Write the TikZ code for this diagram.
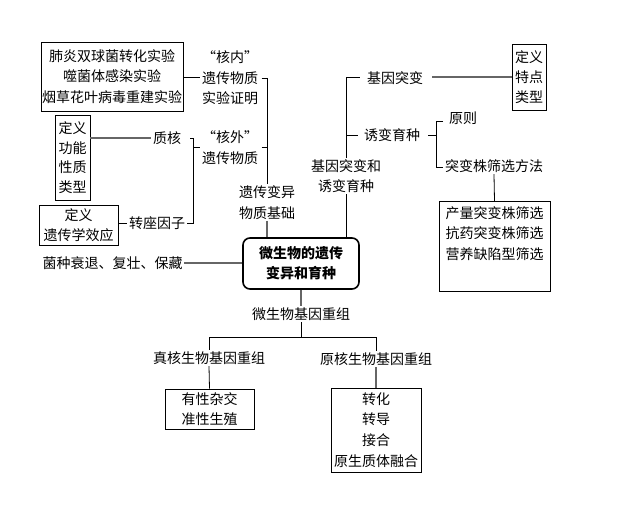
\documentclass[tikz,border=0pt]{standalone}
\usepackage{fontspec}
\setmainfont{Noto Sans CJK SC}
\begin{document}
\begin{tikzpicture}[x=1pt,y=-1pt,
  every node/.style={font=\fontsize{14}{20.5}\selectfont, inner sep=1.5pt, align=center},
  bx/.style={draw, line width=0.8pt, inner sep=0pt},
  ln/.style={line width=0.8pt, black},
  gl/.style={line width=1.2pt, gray!80!black}]
\useasboundingbox (0,0) rectangle (619,523);
% boxes
\node[bx, minimum width=142pt, minimum height=69pt] (b1) at (112,76.5) {肺炎双球菌转化实验\\噬菌体感染实验\\烟草花叶病毒重建实验};
\node[bx, minimum width=35pt, minimum height=85pt, font=\fontsize{14}{19.5}\selectfont] (b2) at (72.5,157.5) {定义\\功能\\性质\\类型};
\node[bx, minimum width=79pt, minimum height=40pt] (b3) at (78.5,225) {定义\\遗传学效应};
\node[bx, minimum width=34pt, minimum height=66pt, font=\fontsize{14}{20}\selectfont] (b4) at (529,77) {定义\\特点\\类型};
\node[bx, minimum width=111pt, minimum height=90pt, anchor=north] (b5) at (494.5,201) {\parbox[c][88pt][t]{108pt}{\centering\vspace*{4pt}产量突变株筛选\\抗药突变株筛选\\营养缺陷型筛选}};
\node[bx, minimum width=89pt, minimum height=40pt] (b6) at (209.5,409) {有性杂交\\准性生殖};
\node[bx, minimum width=90pt, minimum height=84pt, font=\fontsize{14}{20.7}\selectfont] (b7) at (376,430) {转化\\转导\\接合\\原生质体融合};
\node[draw, line width=1.6pt, rounded corners=7pt, minimum width=116pt, minimum height=51pt, font=\fontsize{14}{20}\selectfont\bfseries] (m) at (301,263.5) {微生物的遗传\\变异和育种};
% text nodes
\node (hn) at (230,78) {“核内”\\遗传物质\\实验证明};
\node (hw) at (230,147.5) {“核外”\\遗传物质};
\node (zh) at (167,138) {质核};
\node (zz) at (157,223) {转座因子};
\node (jc) at (267,202.5) {遗传变异\\物质基础};
\node (sb) at (112.5,263) {菌种衰退、复壮、保藏};
\node (cz) at (301,314) {微生物基因重组};
\node (zhh) at (209,358) {真核生物基因重组};
\node (yh) at (376,359) {原核生物基因重组};
\node (tb) at (346,176) {基因突变和\\诱变育种};
\node (jt) at (395,78) {基因突变};
\node (yb) at (392,135) {诱变育种};
\node (yz) at (463,118) {原则};
\node (ff) at (494,166) {突变株筛选方法};
% connectors
\draw[ln] (b1.east |- 0,77.7) -- (hn.west |- 0,77.7);
\draw[ln] ([xshift=2pt]hn.east |- 0,78) -- (267,78) -- (jc.north);
\draw[ln] ([xshift=2pt]hw.east) -- (hw.east -| jc.north);
\draw[gl] (b2.east |- zh) -- (zh.west);
\draw[ln] (190,138) -- (193,138) -- (193,223) -- (zz.east);
\draw[ln] (193,147.5) -- (hw.west);
\draw[ln] (b3.east |- zz) -- (zz.west);
\draw[gl] (jc.south) -- (jc.south |- m.north);
\draw[gl] (sb.east) -- (m.west |- sb);
\draw[gl] (m.south) -- (cz.north);
\draw[ln] (cz.south) -- (301,337) -- (209,337) -- (zhh.north);
\draw[ln] (301,337) -- (376,337) -- (yh.north);
\draw[ln] (zhh.south) -- (b6.north);
\draw[gl] (yh.south) -- (b7.north);
\draw[ln] (tb.south) -- (tb.south |- m.north);
\draw[ln] (tb.north) -- (346,77) -- (360,77);
\draw[ln] (346,135) -- (358,135);
\draw[gl] (432,77) -- (b4.west |- 0,77);
\draw[ln] (428,135) -- (436,135);
\draw[ln] (443,121) -- (436,121) -- (436,167) -- (443,167);
\draw[ln] (ff.south) -- (b5.north);
\end{tikzpicture}
\end{document}
